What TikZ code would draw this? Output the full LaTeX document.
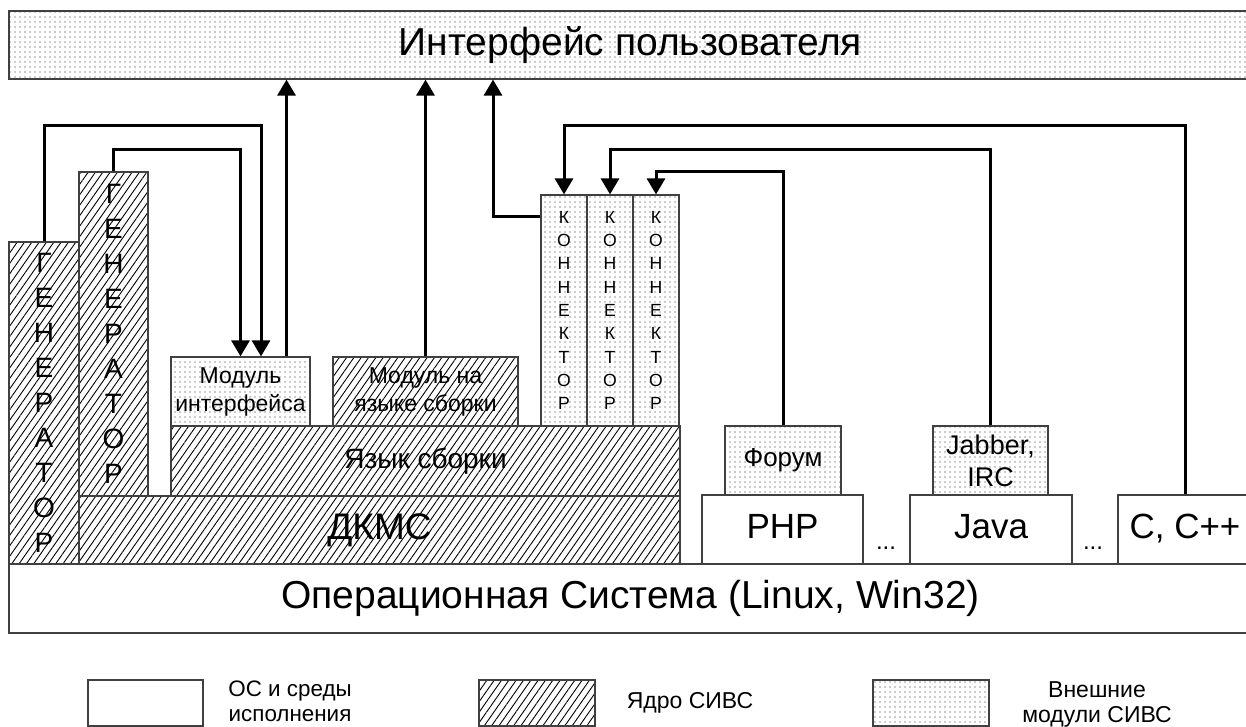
\documentclass[tikz,border=0pt]{standalone}
\usepackage{fontspec}
\setmainfont{Liberation Sans}
\usetikzlibrary{arrows.meta,patterns.meta}

\newcommand\setfs[2]{\fontsize{#1}{#2}\selectfont}

\tikzset{
  blk/.style={draw=black!75, line width=0.6pt, inner sep=0pt, align=center},
  core/.style={blk, pattern={Lines[angle=55,distance=3pt,line width=0.45pt]}},
  ext/.style={blk, pattern={Dots[radius=0.35pt,distance=2.5pt]}, pattern color=black!85},
  env/.style={blk, fill=white},
  big/.style={font=\setfs{19.5}{23}},
  mid/.style={font=\setfs{17.5}{21}, text height=12.5pt, text depth=3.5pt},
  small/.style={font=\setfs{11.5}{14}},
  letters/.style={font=\setfs{14}{17.5}},
  tiny/.style={font=\setfs{8.8}{11.65}},
  link/.style={line width=1.5pt},
  arr/.style={link, -{Triangle[width=9pt,length=8pt]}}
}

\begin{document}
\begin{tikzpicture}[x=0.5pt,y=-0.5pt]
  \useasboundingbox (0,0) rectangle (1246,727);

  % top and bottom bars
  \node[ext,big,minimum width=621.5pt,minimum height=34pt] (ui) at (630.5,45) {Интерфейс пользователя};
  \node[env,big,minimum width=621.5pt,minimum height=34.5pt] (os) at (630.5,598.5) {Операционная Система (Linux, Win32)};

  % core of the system
  \node[core,font=\setfs{18.5}{22},minimum width=300.5pt,minimum height=34pt] (dkms) at (379.5,530) {ДКМС};
  \node[core,letters,minimum width=254.5pt,minimum height=35pt] (lang) at (425.5,461) {Язык сборки};
  \node[ext,small,minimum width=69.5pt,minimum height=34.5pt] (modint) at (240.5,391.5) {Модуль\\интерфейса};
  \node[core,small,minimum width=92.5pt,minimum height=34.5pt] (modlang) at (425.5,391.5) {Модуль на\\языке сборки};
  \node[core,letters,minimum width=35pt,minimum height=161pt] (gen1) at (44,403) {Г\\Е\\Н\\Е\\Р\\А\\Т\\О\\Р};
  \node[core,letters,minimum width=34.5pt,minimum height=162pt] (gen2) at (113.5,334) {Г\\Е\\Н\\Е\\Р\\А\\Т\\О\\Р};

  % connectors
  \foreach \n/\x in {1/564,2/610,3/656}
    \node[ext,tiny,minimum width=23pt,minimum height=115.5pt] (conn\n) at (\x,310.5) {К\\О\\Н\\Н\\Е\\К\\Т\\О\\Р};

  % runtime environments and external modules
  \node[env,mid,minimum width=80.5pt,minimum height=34.5pt] (php) at (782.5,529.5) {PHP};
  \node[env,mid,minimum width=81pt,minimum height=34.5pt] (java) at (991,529.5) {Java};
  \node[env,mid,minimum width=67pt,minimum height=34.5pt] (cpp) at (1185,529.5) {C, C++};
  \node[ext,font=\setfs{13}{16},minimum width=58pt,minimum height=34.5pt] (forum) at (783,460.5) {Форум};
  \node[ext,font=\setfs{13.5}{16},minimum width=57.5pt,minimum height=34.5pt] (jabber) at (990.5,460.5) {Jabber,\\IRC};
  \node[font=\setfs{12}{14}] (dots1) at (886,548) {...};
  \node[font=\setfs{12}{14}] (dots2) at (1093,548) {...};

  % connections
  \coordinate (miA) at ([xshift=10.25pt]modint.north);
  \coordinate (miB) at ([xshift=23pt]modint.north);
  \coordinate (cA) at ([yshift=-11pt]conn1.north west);
  \draw[arr] (miB) -- (ui.south -| miB);
  \draw[arr] (modlang.north) -- (ui.south -| modlang.north);
  \draw[arr] (cA) -| (ui.south -| 493,0);
  \draw[arr] (gen1.north) |- (miA |- 0,126) -- (miA);
  \draw[arr] (gen2.north) |- (modint.north |- 0,150) -- (modint.north);
  \draw[arr] (cpp.north) |- (conn1.north |- 0,126) -- (conn1.north);
  \draw[arr] (jabber.north) |- (conn2.north |- 0,150) -- (conn2.north);
  \draw[arr] (forum.north) |- (conn3.north |- 0,172) -- (conn3.north);

  % legend
  \node[env,minimum width=57.5pt,minimum height=23pt] (lgenvbox) at (145.5,703) {};
  \node[core,minimum width=58pt,minimum height=23pt] (lgcorebox) at (537,703) {};
  \node[ext,minimum width=58pt,minimum height=23pt] (lgextbox) at (931,703) {};
  \node[align=center,font=\setfs{11.2}{12.5}] (lgenv) at (290,701) {ОС и среды\\исполнения};
  \node[font=\setfs{11.5}{12.5}] (lgcore) at (690,703) {Ядро СИВС};
  \node[align=center,font=\setfs{11.5}{12.5}] (lgext) at (1097,704) {Внешние\\модули СИВС};
\end{tikzpicture}
\end{document}
